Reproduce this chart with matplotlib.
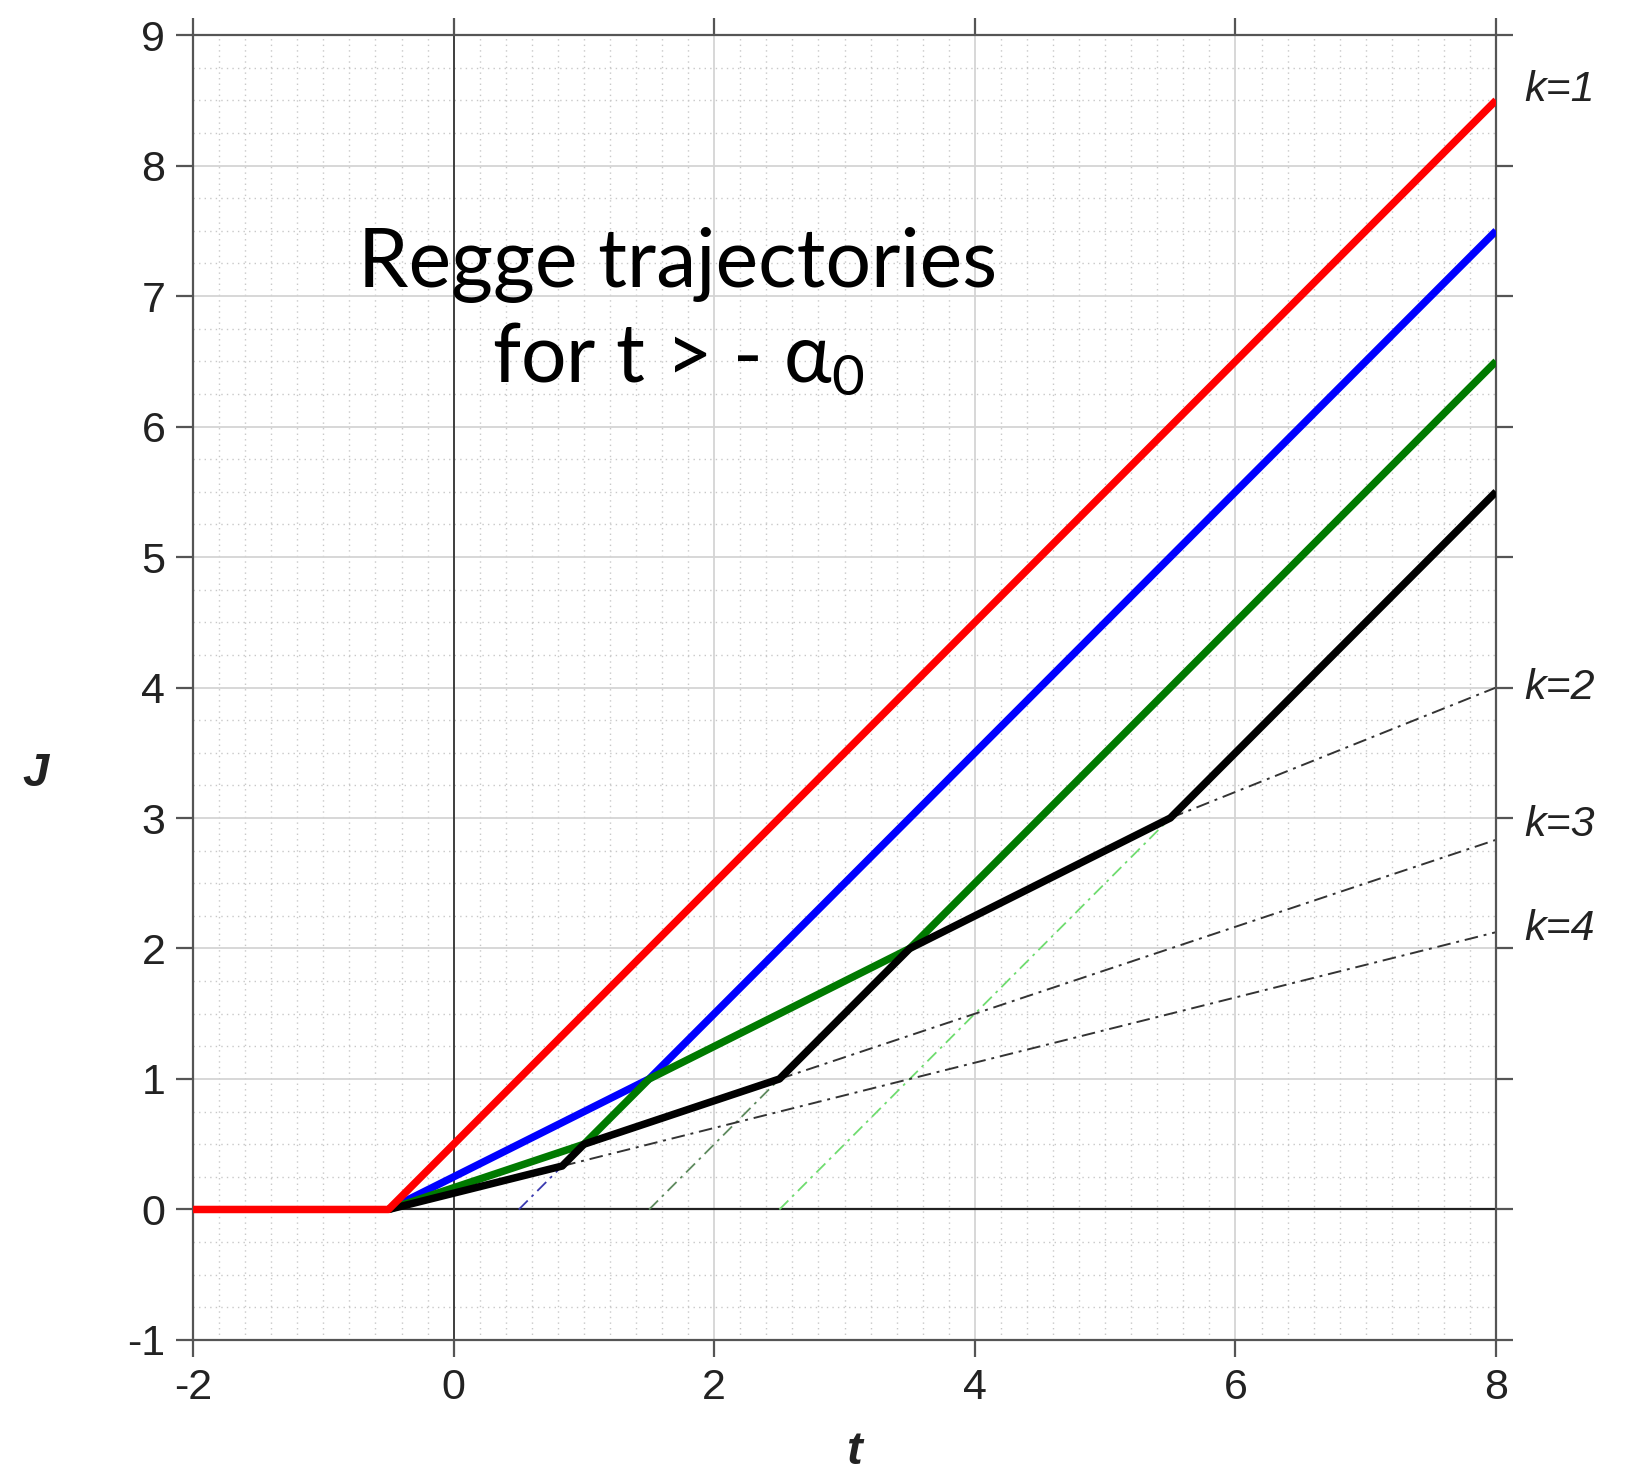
"""
Regge trajectories chart: piecewise-linear J(t) curves with dash-dot continuations.
"""

import numpy as np
import matplotlib
matplotlib.use("Agg")
import matplotlib.pyplot as plt
from matplotlib.ticker import MultipleLocator

plt.rcParams["axes.unicode_minus"] = False
plt.rcParams["mathtext.fontset"] = "custom"
plt.rcParams["mathtext.rm"] = "Lato"

# ── Data ────────────────────────────────────────────────────────────────────
red_t   = [-2.0, -0.5, 8.0]
red_J   = [0.0, 0.0, 8.5]
blue_t  = [-0.5, 1.5, 8.0]
blue_J  = [0.0, 1.0, 7.5]
green_t = [-0.5, 1.0, 1.5, 3.5, 8.0]
green_J = [0.0, 0.5, 1.0, 2.0, 6.5]
black_t = [-0.5, 0.833, 1.0, 2.5, 3.5, 5.5, 8.0]
black_J = [0.0, 0.333, 0.5, 1.0, 2.0, 3.0, 5.5]

# dash-dot continuations
dash_blue_t  = [0.5, 0.833]
dash_blue_J  = [0.0, 0.333]
dash_dkgrn_t = [1.5, 2.5]
dash_dkgrn_J = [0.0, 1.0]
dash_ltgrn_t = [2.5, 5.5]
dash_ltgrn_J = [0.0, 3.0]
dash_k4_t    = [0.833, 8.0]
dash_k4_J    = [0.333, 2.125]
dash_k3_t    = [2.5, 8.0]
dash_k3_J    = [1.0, 2.833]
dash_k2_t    = [5.5, 8.0]
dash_k2_J    = [3.0, 4.0]

k_labels = ["k=1", "k=2", "k=3", "k=4"]
k_label_J = [8.58, 4.0, 2.95, 2.15]

x_ticks = [-2, 0, 2, 4, 6, 8]
y_ticks = list(range(-1, 10))

# ── Figure ──────────────────────────────────────────────────────────────────
fig = plt.figure(figsize=(16.29, 14.79), dpi=100)
ax = fig.add_axes([0.1185, 0.094, 0.7999, 0.8823])

ax.set_xlim(-2, 8)
ax.set_ylim(-1, 9)

# grid
ax.xaxis.set_major_locator(MultipleLocator(2))
ax.yaxis.set_major_locator(MultipleLocator(1))
ax.xaxis.set_minor_locator(MultipleLocator(0.2))
ax.yaxis.set_minor_locator(MultipleLocator(0.25))
ax.grid(which="major", color="#d4d4d4", linewidth=1.3, linestyle="-")
ax.grid(which="minor", color="#c8c8c8", linewidth=1.0, linestyle=(0, (1, 3)))
ax.set_axisbelow(True)

ax.axhline(0, color="#222222", linewidth=1.6, zorder=1)
ax.axvline(0, color="#333333", linewidth=1.3, zorder=1)

dash = (0, (7, 3, 1.5, 3))
ax.plot(dash_blue_t, dash_blue_J, color="#3a3ab0", linewidth=1.3, linestyle=dash, zorder=2)
ax.plot(dash_dkgrn_t, dash_dkgrn_J, color="#5e8a5e", linewidth=1.3, linestyle=dash, zorder=2)
ax.plot(dash_ltgrn_t, dash_ltgrn_J, color="#6fdc6f", linewidth=1.3, linestyle=dash, zorder=2)
for tt, jj in [(dash_k4_t, dash_k4_J), (dash_k3_t, dash_k3_J), (dash_k2_t, dash_k2_J)]:
    ax.plot(tt, jj, color="#333333", linewidth=1.4, linestyle=dash, zorder=2)

lw = 5.4
ax.plot(red_t, red_J, color="#ff0000", linewidth=lw, solid_capstyle="butt", zorder=5)
ax.plot(blue_t, blue_J, color="#0000ff", linewidth=lw, solid_capstyle="butt", zorder=3)
ax.plot(green_t, green_J, color="#007a00", linewidth=lw, solid_capstyle="butt", zorder=3.5)
ax.plot(black_t, black_J, color="#000000", linewidth=lw, solid_capstyle="butt", zorder=4)

# spines and ticks
for side in ["left", "right", "top", "bottom"]:
    ax.spines[side].set_color("#555555")
    ax.spines[side].set_linewidth(1.6)
ax.tick_params(which="major", direction="out", length=12, width=1.6, color="#555555",
               top=True, right=True, labelsize=31, labelcolor="#222222", pad=8)
ax.tick_params(which="minor", length=0)
ax.set_xticks(x_ticks)
ax.set_yticks(y_ticks)
for lab in ax.get_xticklabels() + ax.get_yticklabels():
    lab.set_family("Liberation Sans")

# axis labels
fig.text(0.022, 0.477, "J", fontsize=34, fontstyle="italic", fontweight="bold",
         family="Liberation Sans", ha="center", va="center", color="#222222")
fig.text(0.524, 0.018, "t", fontsize=34, fontstyle="italic", fontweight="bold",
         family="Liberation Sans", ha="center", va="center", color="#222222")

# k labels on the right
for lab, jj in zip(k_labels, k_label_J):
    ax.text(8.22, jj, lab, fontsize=31, fontstyle="italic", family="Liberation Sans",
            ha="left", va="center", color="#222222", clip_on=False)

# annotation
ax.text(1.72, 7.24, "Regge trajectories", fontsize=58, family=["Lato", "DejaVu Sans"],
        ha="center", va="center", color="black")
ax.text(1.72, 6.52, r"for t > - α$_\mathrm{0}$", fontsize=58, family=["Lato", "DejaVu Sans"],
        ha="center", va="center", color="black")

fig.savefig("out.png", dpi=100, facecolor="white")
